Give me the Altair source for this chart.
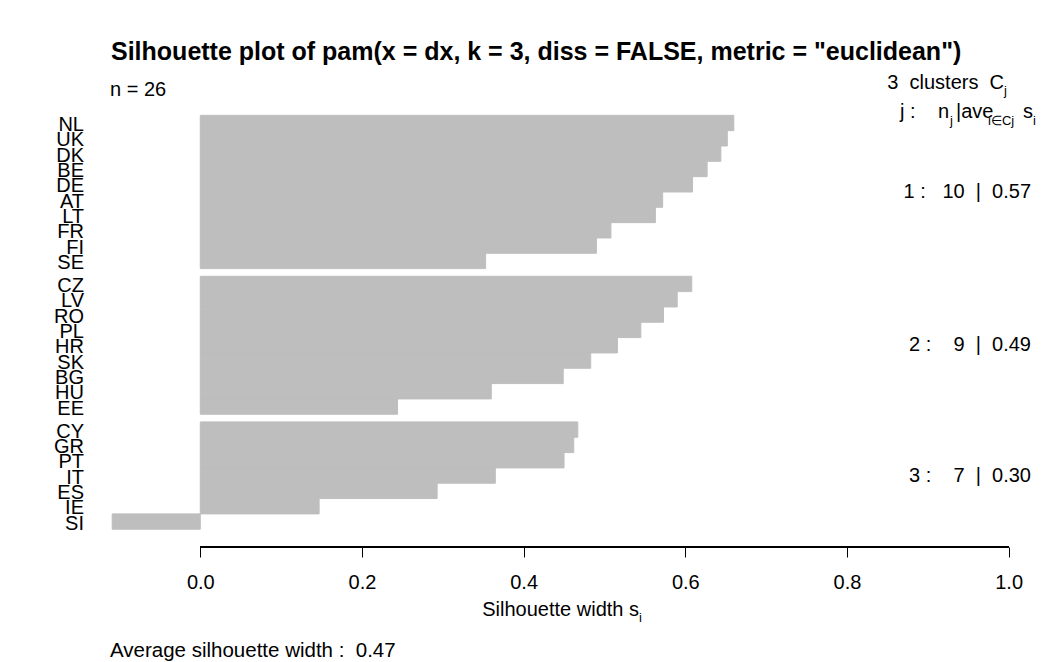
import altair as alt
import pandas as pd

# ---- data ----
countries = ["NL", "UK", "DK", "BE", "DE", "AT", "LT", "FR", "FI", "SE",
             "CZ", "LV", "RO", "PL", "HR", "SK", "BG", "HU", "EE",
             "CY", "GR", "PT", "IT", "ES", "IE", "SI"]
clusters = [1] * 10 + [2] * 9 + [3] * 7
sil_width = [0.660, 0.652, 0.644, 0.627, 0.609, 0.572, 0.563, 0.508, 0.490, 0.353,
             0.608, 0.590, 0.573, 0.545, 0.516, 0.483, 0.449, 0.360, 0.244,
             0.467, 0.462, 0.450, 0.365, 0.293, 0.147, -0.109]
cluster_ids = [1, 2, 3]
NB = "\u00a0"
cluster_labels = [f"1 :{NB*3}10{NB*2}|{NB*2}0.57",
                  f"2 :{NB*4}9{NB*2}|{NB*2}0.49",
                  f"3 :{NB*4}7{NB*2}|{NB*2}0.30"]
x_ticks = [0.0, 0.2, 0.4, 0.6, 0.8, 1.0]
title_text = 'Silhouette plot of pam(x = dx, k = 3, diss = FALSE, metric = "euclidean")'
n_text = "n = 26"
avg_text = f"Average silhouette width :{NB*2}0.47"

# ---- layout of bars (R barplot: space 0 inside cluster, 0.5 between) ----
rows = []
pos = 0.0
prev = None
for c, cl, s in zip(countries, clusters, sil_width):
    if prev is not None and cl != prev:
        pos += 0.5
    rows.append({"country": c, "cluster": cl, "s": s, "top": pos, "bottom": pos + 1, "mid": pos + 0.5})
    pos += 1
    prev = cl
df = pd.DataFrame(rows)
cdf = df.groupby("cluster").agg(top=("top", "min"), bottom=("bottom", "max")).reset_index()
cdf["mid"] = (cdf["top"] + cdf["bottom"]) / 2
cdf["label"] = [cluster_labels[cluster_ids.index(c)] for c in cdf["cluster"]]

FONT = "Liberation Sans"
W, H = 970, 447
xscale = alt.Scale(domain=[-0.155, 1.045], nice=False, zero=False)
yscale = alt.Scale(domain=[-1, 28.16], nice=False, zero=False, reverse=True)

base = alt.Chart(df)

bars = base.mark_bar(color="#BEBEBE", stroke="#BEBEBE", strokeWidth=1).encode(
    x=alt.X("s:Q", scale=xscale,
            axis=alt.Axis(values=x_ticks, format=".1f", domain=False, grid=False,
                          ticks=True, tickSize=10, tickColor="black", tickWidth=1,
                          labelFont=FONT, labelFontSize=20, labelColor="black",
                          labelPadding=15, title=None)),
    x2=alt.datum(0),
    y=alt.Y("top:Q", scale=yscale, axis=None),
    y2="bottom:Q",
)

names = base.mark_text(align="right", baseline="alphabetic", dy=8, font=FONT,
                       fontSize=20, color="black").encode(
    x=alt.value(9),
    y=alt.Y("mid:Q", scale=yscale),
    text="country:N",
)

clabels = alt.Chart(cdf).mark_text(align="right", baseline="alphabetic", dy=6,
                                   font=FONT, fontSize=20, color="black").encode(
    x=alt.value(956),
    y=alt.Y("mid:Q", scale=yscale),
    text="label:N",
)

axis_line = alt.Chart(df).mark_rule(color="black", strokeWidth=1).encode(
    x=alt.datum(0), x2=alt.datum(1), y=alt.value(H)
)


def txt(text, x, y, size=20, align="left", weight="normal"):
    return alt.Chart(pd.DataFrame({"t": [text]})).mark_text(
        align=align, baseline="alphabetic", font=FONT, fontSize=size,
        fontWeight=weight, color="black"
    ).encode(x=alt.value(x), y=alt.value(y), text="t:N")


annots = [
    txt(title_text, 36, -40, size=25, weight="bold"),
    txt(n_text, 35, -4),
    txt(f"3{NB*2}clusters{NB*2}C", 929, -11, align="right"),
    txt("j", 929, -5, size=13),
    txt(f"j{NB}:{NB*4}n", 874, 18.3, align="right"),
    txt("j", 875, 25, size=13),
    txt("|ave", 881, 18.3),
    txt("i\u2208Cj", 913, 25, size=13),
    txt("s", 948, 18.3),
    txt("i", 958, 25, size=13),
    txt("Silhouette width s", 564, 516, align="right"),
    txt("i", 564, 522, size=13),
    txt(avg_text, 35, 557.3, size=20.5),
]

chart = alt.layer(bars, axis_line, names, clabels, *annots).properties(
    width=W, height=H,
    autosize=alt.AutoSizeParams(type="none"),
    padding={"left": 75, "top": 100, "right": 7, "bottom": 115},
    background="white",
).configure_view(stroke=None)

chart.save("out.html", embed_options={"renderer": "svg", "actions": False})
